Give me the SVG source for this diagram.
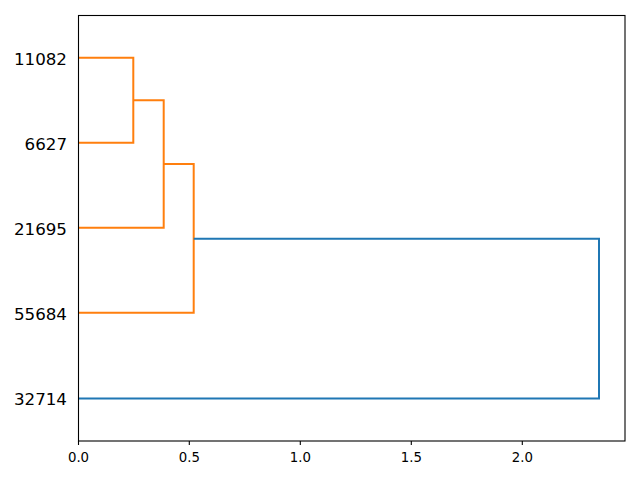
<svg xmlns="http://www.w3.org/2000/svg" width="640" height="480" viewBox="0 0 640 480">
<style>
.c1{fill:none;stroke:#ff7f0e;stroke-width:2}
.c0{fill:none;stroke:#1f77b4;stroke-width:2}
.ylab{font-family:"DejaVu Sans",sans-serif;font-size:16.7px;text-anchor:end;fill:#000}
.xlab{font-family:"DejaVu Sans",sans-serif;font-size:13.3px;text-anchor:middle;fill:#000}
.tick{stroke:#000;stroke-width:1.1}
</style>
<rect x="0" y="0" width="640" height="480" fill="#fff"/>
<g id="connectors">
<path class="c1" d="M78.5,57.7 H133.3 V142.7 H78.5"/>
<path class="c1" d="M133.3,100.2 H163.7 V227.7 H78.5"/>
<path class="c1" d="M163.7,164 H193.7 V312.7 H78.5"/>
<path class="c0" d="M193.7,238.7 H599 V398.5 H78.5"/>
</g>
<g id="axes">
<rect x="78.5" y="15.5" width="546.5" height="425.5" fill="none" stroke="#000" stroke-width="1.1"/>
<g id="xticks">
<line class="tick" x1="78.5" y1="441" x2="78.5" y2="445"/>
<line class="tick" x1="189.3" y1="441" x2="189.3" y2="445"/>
<line class="tick" x1="300.3" y1="441" x2="300.3" y2="445"/>
<line class="tick" x1="411.3" y1="441" x2="411.3" y2="445"/>
<line class="tick" x1="522.3" y1="441" x2="522.3" y2="445"/>
<text class="xlab" x="78.5" y="462">0.0</text>
<text class="xlab" x="189.3" y="462">0.5</text>
<text class="xlab" x="300.3" y="462">1.0</text>
<text class="xlab" x="411.3" y="462">1.5</text>
<text class="xlab" x="522.3" y="462">2.0</text>
</g>
</g>
<g id="leaf-11082"><text class="ylab" x="67" y="64.5">11082</text></g>
<g id="leaf-6627"><text class="ylab" x="67" y="149.5">6627</text></g>
<g id="leaf-21695"><text class="ylab" x="67" y="234.5">21695</text></g>
<g id="leaf-55684"><text class="ylab" x="67" y="319.5">55684</text></g>
<g id="leaf-32714"><text class="ylab" x="67" y="405.2">32714</text></g>
</svg>
